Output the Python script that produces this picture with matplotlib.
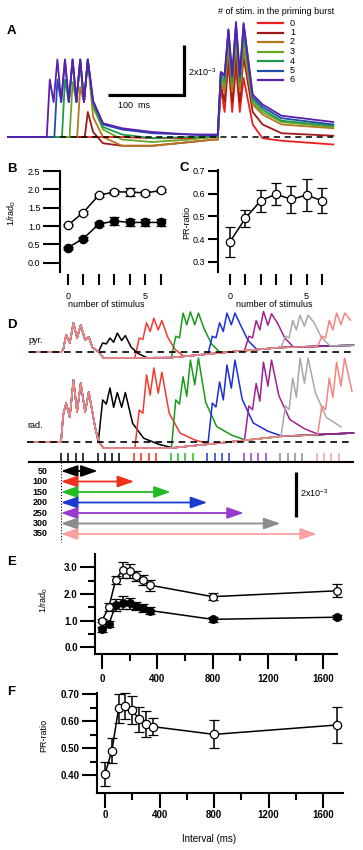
import numpy as np
import matplotlib.pyplot as plt
from matplotlib.ticker import FormatStrFormatter

plt.rcParams['font.family'] = ['Liberation Sans', 'DejaVu Sans']
plt.rcParams['mathtext.default'] = 'regular'

# ---------------- panel A : traces for 0..6 priming stimuli ----------------
a_nstim = [0, 1, 2, 3, 4, 5, 6]
a_colors = ['#ee1c1c', '#9e1a1a', '#b5761c', '#6aa52a', '#1f9c4b', '#1f4fa8', '#5b1fb0']
a_prime_t = [55, 65, 75, 85, 95, 105]          # ms, priming burst peaks
a_prime_first = [0.0, 1.0, 2.0, 2.2, 2.3, 2.3, 2.3]
a_prime_peak = 3.1
a_prime_valley = 1.4
a_inter_t = [112, 125, 150, 190, 240, 272]
a_inter_v = [
    [0.0, 0.0, 0.0, -0.05, -0.05, 0.0],
    [0.2, -0.25, -0.35, -0.35, -0.2, -0.1],
    [0.8, 0.0, -0.35, -0.35, -0.2, -0.1],
    [1.2, 0.3, -0.1, -0.2, -0.1, 0.0],
    [1.3, 0.4, 0.1, -0.05, 0.0, 0.0],
    [1.4, 0.5, 0.3, 0.15, 0.1, 0.05],
    [1.45, 0.55, 0.35, 0.2, 0.1, 0.1],
]
a_test_t = [280, 290, 300, 310]
a_test_v = [
    [1.96, 3.0, 2.8, 2.36],
    [2.1, 3.3, 3.3, 3.2],
    [2.3, 3.6, 3.8, 3.5],
    [2.4, 3.9, 4.1, 3.9],
    [2.5, 4.1, 4.3, 4.2],
    [2.6, 4.3, 4.5, 4.5],
    [2.6, 4.3, 4.6, 4.56],
]
a_test_valley = [1.0, 1.4, 1.8, 2.0, 2.2, 2.4, 2.5]
a_decay_t = [322, 335, 360, 428]
a_decay_v = [
    [0.5, -0.05, -0.15, -0.3],
    [1.0, 0.5, 0.15, 0.05],
    [1.3, 0.9, 0.5, 0.35],
    [1.4, 1.0, 0.6, 0.4],
    [1.5, 1.1, 0.65, 0.45],
    [1.6, 1.2, 0.75, 0.5],
    [1.7, 1.3, 0.85, 0.6],
]

# ---------------- panels B, C ----------------
b_x = [0, 1, 2, 3, 4, 5, 6]
b_open = [1.02, 1.37, 1.84, 1.93, 1.93, 1.90, 1.97]
b_open_err = [0.03, 0.03, 0.04, 0.05, 0.12, 0.05, 0.04]
b_fill = [0.41, 0.66, 1.05, 1.14, 1.10, 1.10, 1.10]
b_fill_err = [0.03, 0.04, 0.06, 0.10, 0.10, 0.10, 0.10]
c_pr = [0.388, 0.491, 0.569, 0.598, 0.575, 0.594, 0.569]
c_err = [0.065, 0.037, 0.048, 0.050, 0.058, 0.070, 0.055]

# ---------------- panel D ----------------
d_intervals = [50, 100, 150, 200, 250, 300, 350]
d_colors = ['#000000', '#f23a2e', '#1a9a1a', '#1d2fd8', '#a3208f', '#a8a8a8', '#f5837e']
d_arrow_colors = ['#000000', '#f0301c', '#22bb22', '#1a3ad0', '#9a3ad0', '#8c8c8c', '#f9a0a0']
d_burst_ticks = [0, 10, 20, 30]
d_first_t_pyr = [3, 7, 12, 17, 22, 27, 33, 38, 43]
d_first_pyr = [0.1, 0.76, 0.4, 1.29, 0.62, 1.2, 0.53, 0.67, 0.2]
d_first_t_rad = [3, 7, 12, 17, 22, 27, 33, 38, 42, 47]
d_first_rad = [1.2, 1.73, 1.1, 2.76, 1.33, 2.62, 1.33, 2.22, 1.5, 0.6]
d_pyr_peaks = [[0.4, 0.62, 0.84, 0.73], [0.62, 1.3, 1.5, 1.4], [0.7, 1.73, 1.78, 1.73],
               [0.7, 1.3, 1.73, 1.73], [0.7, 1.4, 1.8, 1.7], [0.7, 1.4, 1.64, 1.64],
               [0.7, 1.4, 1.73, 1.73]]
d_rad_peaks = [[1.87, 2.4, 2.2, 2.2], [1.42, 2.98, 3.29, 3.1], [1.87, 2.9, 3.64, 3.73],
               [1.73, 2.67, 3.42, 3.64], [1.6, 2.6, 3.55, 3.64], [1.6, 2.84, 3.73, 3.73],
               [1.6, 2.84, 3.55, 3.73]]
d_base_t = [-44, 0, 52, 58, 150, 230, 300, 400]
d_pyr_base = [0, 0, 0, -0.27, -0.25, 0.0, 0.2, 0.3]
d_rad_base = [0, 0, 0, -0.27, -0.27, 0.0, 0.25, 0.4]
d_pyr_dec_dt = [8, 18, 30]
d_pyr_dec_fr = [0.65, 0.25, 0.0]
d_rad_dec_dt = [10, 25, 45, 65]
d_rad_dec_fr = [0.5, 0.2, 0.08, 0.0]
d_valley_frac = 0.7
d_shoulder_dip = 0.9

# ---------------- panels E, F ----------------
e_int = [0, 50, 100, 150, 200, 250, 300, 350, 800, 1700]
e_open = [1.0, 1.5, 2.54, 2.9, 2.86, 2.67, 2.52, 2.33, 1.9, 2.12]
e_open_err = [0.05, 0.15, 0.15, 0.3, 0.25, 0.2, 0.2, 0.2, 0.12, 0.25]
e_fill = [0.67, 0.87, 1.58, 1.68, 1.65, 1.55, 1.48, 1.38, 1.05, 1.13]
e_fill_err = [0.1, 0.12, 0.22, 0.25, 0.2, 0.15, 0.15, 0.12, 0.1, 0.08]
f_pr = [0.404, 0.49, 0.648, 0.657, 0.642, 0.607, 0.59, 0.58, 0.551, 0.586]
f_err = [0.044, 0.047, 0.054, 0.047, 0.052, 0.046, 0.048, 0.032, 0.052, 0.068]

W, H = 363, 850
fig = plt.figure(figsize=(W / 100, H / 100), dpi=100)


def box(x0, y0, x1, y1):
    # pixel box, origin top-left
    return fig.add_axes([x0 / W, 1 - y1 / H, (x1 - x0) / W, (y1 - y0) / H])


def ftext(x, y, s, **kw):
    kw.setdefault('va', 'center')
    fig.text(x / W, 1 - y / H, s, **kw)


ov = fig.add_axes([0, 0, 1, 1])
ov.set_xlim(0, W)
ov.set_ylim(H, 0)
ov.axis('off')

# ---------------- A ----------------
def a_trace(i):
    n = a_nstim[i]
    t, v = [0.0], [0.0]
    if n > 0:
        pk = a_prime_t[len(a_prime_t) - n:]
        t.append(pk[0] - 4); v.append(0.0)
        for k, tp in enumerate(pk):
            if k > 0:
                t.append(tp - 5); v.append(a_prime_valley)
            t.append(tp); v.append(a_prime_first[i] if k == 0 else a_prime_peak)
    t += a_inter_t; v += a_inter_v[i]
    t.append(276); v.append(a_inter_v[i][-1])
    for k, tp in enumerate(a_test_t):
        if k > 0:
            t.append(tp - 5); v.append(a_test_valley[i])
        t.append(tp); v.append(a_test_v[i][k])
    t += a_decay_t; v += a_decay_v[i]
    return t, v


axA = box(0, 0, 363, 150)
axA.set_xlim(-8 / 0.76, (363 - 8) / 0.76)
axA.set_ylim((137 - 150) / 25, 137 / 25)
axA.axis('off')
for i in range(len(a_nstim)):
    t, v = a_trace(i)
    axA.plot(t, v, color=a_colors[i], lw=1.3)
axA.plot([68, 428], [0, 0], color='k', lw=1.1, dashes=(4, 3), zorder=5)
axA.plot([131.6, 231.6, 231.6], [1.68, 1.68, 3.68], color='k', lw=2.3,
         solid_joinstyle='miter', solid_capstyle='butt')
ftext(118, 106, '100  ms', fontsize=6.5)
ftext(188, 72, '2x10$^{-3}$', fontsize=6.5)
ftext(218, 12, '# of stim. in the priming burst', fontsize=6.5)
for i, n in enumerate(a_nstim):
    y = 23 + 9.5 * i
    ov.plot([258, 283], [y, y], color=a_colors[i], lw=1.6)
    ftext(290, y, str(n), fontsize=6.5)

# ---------------- B ----------------
def style_small(ax, ylen):
    for s in ['top', 'right', 'bottom']:
        ax.spines[s].set_visible(False)
    ax.spines['left'].set_linewidth(1.5)
    ax.spines['bottom'].set_position(('outward', 1.5))
    ax.set_xticks(b_x)
    ax.set_xticklabels(['0', '', '', '', '', '5', ''])
    ax.tick_params(axis='x', direction='out', length=8, width=1.5, pad=5, labelsize=6.5)
    ax.tick_params(axis='y', direction='out', length=ylen, width=1.5, pad=2, labelsize=6.5)


ekw = dict(color='k', ms=6, lw=1.1, capsize=3.5, elinewidth=1.1, capthick=1.1, mew=0.9,
           mec='k', clip_on=False)
axB = box(60, 171, 166, 272)
axB.errorbar(b_x, b_fill, yerr=b_fill_err, fmt='-o', mfc='k', **ekw)
axB.errorbar(b_x, b_open, yerr=b_open_err, fmt='-o', mfc='white', **ekw)
axB.set_xlim(-0.5, 6.34)
axB.set_ylim(-0.25, 2.5)
axB.set_yticks([0, 0.5, 1.0, 1.5, 2.0, 2.5])
axB.yaxis.set_major_formatter(FormatStrFormatter('%.1f'))
style_small(axB, 12)

axC = box(218, 170, 325, 272)
axC.errorbar(b_x, c_pr, yerr=c_err, fmt='-o', mfc='white', **ekw)
axC.set_xlim(-0.78, 6.2)
axC.set_ylim(0.2547, 0.7044)
axC.set_yticks([0.3, 0.4, 0.5, 0.6, 0.7])
axC.yaxis.set_major_formatter(FormatStrFormatter('%.1f'))
style_small(axC, 7)

ftext(7, 169, 'B', fontsize=9.5, fontweight='bold')
ftext(180, 168, 'C', fontsize=9.5, fontweight='bold')
ftext(12, 213, '1/rad$_0$', fontsize=6.5, rotation=90, ha='center')
ftext(187, 222, 'PR-ratio', fontsize=6.5, rotation=90, ha='center')
ftext(106, 304.5, 'number of stimulus', fontsize=6.5, ha='center')
ftext(274, 304.5, 'number of stimulus', fontsize=6.5, ha='center')

# ---------------- D ----------------
def d_trace(I, first_t, first_v, peaks, bv, dec_dt, dec_fr):
    t = [-44.0, 0.0] + list(first_t)
    v = [0.0, 0.0] + list(first_v)
    for tb, vb in zip(d_base_t, bv):
        if first_t[-1] < tb < I + 1:
            t.append(tb); v.append(vb)
    p0, p1, p2, p3 = peaks
    t.append(I + 1); v.append(np.interp(I + 1, d_base_t, bv))
    rel = [7, 12, 17, 22, 27, 33, 38]
    amp = [p0, d_shoulder_dip * p0, p1, d_valley_frac * min(p1, p2), p2,
           d_valley_frac * min(p2, p3), p3]
    for r, a in zip(rel, amp):
        t.append(I + r); v.append(a)
    end = I + 38
    for dt, fr in zip(dec_dt, dec_fr):
        t.append(end + dt); v.append(fr * p3 + np.interp(end + dt, d_base_t, bv))
    for tb, vb in zip(d_base_t, bv):
        if tb > end + dec_dt[-1]:
            t.append(tb); v.append(vb)
    t = np.array(t, dtype=float)
    v = np.array(v, dtype=float)
    keep = t <= 402
    return t[keep], v[keep]


axD = box(0, 300, 363, 545)
axD.set_xlim(-61 / 0.731, (363 - 61) / 0.731)
axD.set_ylim((442 - 545) / 22.5, (442 - 300) / 22.5)
axD.axis('off')
pyr_off = 4.0
for k, I in enumerate(d_intervals):
    t, v = d_trace(I, d_first_t_pyr, d_first_pyr, d_pyr_peaks[k], d_pyr_base,
                   d_pyr_dec_dt, d_pyr_dec_fr)
    axD.plot(t, v + pyr_off, color=d_colors[k], lw=1.1)
    t, v = d_trace(I, d_first_t_rad, d_first_rad, d_rad_peaks[k], d_rad_base,
                   d_rad_dec_dt, d_rad_dec_fr)
    axD.plot(t, v, color=d_colors[k], lw=1.1)
axD.plot([-44, 400], [pyr_off, pyr_off], color='k', lw=1.2, dashes=(4, 3), zorder=5)
axD.plot([-46, 400], [0, 0], color='k', lw=1.2, dashes=(4, 3), zorder=5)

# stimulus ticks
axD.vlines(d_burst_ticks, -0.89, -0.49, color='k', lw=1.1)
for k, I in enumerate(d_intervals):
    axD.vlines([I + s for s in d_burst_ticks], -0.89, -0.49, color=d_arrow_colors[k], lw=1.1)
axD.plot([-44, 400], [-0.89, -0.89], color='k', lw=1.5)
axD.plot([0, 0], [-0.89, -4.44], color='k', lw=0.8, ls=':')

for k, I in enumerate(d_intervals):
    y = (442 - (471 + 10.5 * k)) / 22.5
    axD.annotate('', xy=(I, y), xytext=(0, y),
                 arrowprops=dict(arrowstyle='<|-|>,head_length=1.0,head_width=0.35',
                                 color=d_arrow_colors[k], lw=1.3, shrinkA=0, shrinkB=0,
                                 mutation_scale=10))
    axD.text(-18, y, str(I), ha='right', va='center', fontsize=6.5, fontweight='bold')

axD.plot([321.5, 321.5], [-1.33, -3.33], color='k', lw=2.3, solid_capstyle='butt')
axD.text(327, -2.27, '2x10$^{-3}$', fontsize=6.5, va='center')
ftext(7, 324.5, 'D', fontsize=9.5, fontweight='bold')
ftext(28, 341, 'pyr.', fontsize=6.5)
ftext(27, 425, 'rad.', fontsize=6.5)

# ---------------- E, F ----------------
def style_long(ax, ymaj, ymin, yfmt):
    for s in ['top', 'right']:
        ax.spines[s].set_visible(False)
    ax.spines['left'].set_linewidth(1.5)
    ax.spines['bottom'].set_linewidth(1.5)
    ax.set_xticks([0, 400, 800, 1200, 1600])
    ax.set_xticks([200, 600, 1000, 1400], minor=True)
    ax.set_yticks(ymaj)
    ax.set_yticks(ymin, minor=True)
    ax.yaxis.set_major_formatter(FormatStrFormatter(yfmt))
    ax.tick_params(which='major', direction='out', length=10.5, width=1.5, labelsize=7, pad=2)
    ax.tick_params(which='minor', direction='out', length=5, width=1.5)
    for lab in ax.get_xticklabels() + ax.get_yticklabels():
        lab.set_fontweight('bold')


ekw2 = dict(color='k', ms=5.5, lw=1.1, capsize=3.5, elinewidth=1.1, capthick=1.1, mew=0.9,
            mec='k', clip_on=False)
axE = box(95, 554, 337, 654)
axE.errorbar(e_int, e_fill, yerr=e_fill_err, fmt='-o', mfc='k', **ekw2)
axE.errorbar(e_int, e_open, yerr=e_open_err, fmt='-o', mfc='white', **ekw2)
axE.set_xlim(-50, 1700)
axE.set_ylim(-0.25, 3.5)
style_long(axE, [0, 1, 2, 3], [0.5, 1.5, 2.5], '%.1f')
axE.tick_params(axis='x', which='major', pad=4)

axF = box(97, 693, 343, 793)
axF.errorbar(e_int, f_pr, yerr=f_err, fmt='-o', mfc='white', **dict(ekw2, ms=6))
axF.set_xlim(-58.7, 1745)
axF.set_ylim(0.333, 0.705)
style_long(axF, [0.4, 0.5, 0.6, 0.7], [0.45, 0.55, 0.65], '%.2f')

ftext(7, 562, 'E', fontsize=9.5, fontweight='bold')
ftext(7, 692, 'F', fontsize=9.5, fontweight='bold')
ftext(44, 600, '1/rad$_0$', fontsize=6.5, rotation=90, ha='center')
ftext(44, 735, 'PR-ratio', fontsize=6.5, rotation=90, ha='center')
ftext(209, 839, 'Interval (ms)', fontsize=7, ha='center')

ftext(7, 30.5, 'A', fontsize=9.5, fontweight='bold')

fig.savefig('out.png', dpi=100)
